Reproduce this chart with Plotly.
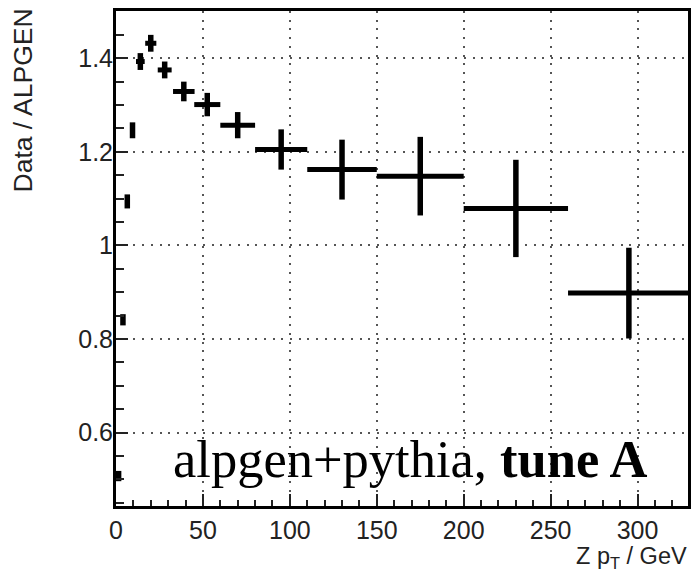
import plotly.graph_objects as go

# Z pT bin centres (GeV) and half-widths
pt = [1.5, 4.0, 6.5, 9.5, 14.0, 20.0, 28.0, 39.0, 52.5, 70.0, 95.0, 130.0, 175.0, 230.0, 295.0]
pt_halfwidth = [0.8, 0.8, 0.8, 1.0, 2.5, 3.2, 4.0, 6.2, 7.5, 10.0, 15.0, 20.0, 25.0, 30.0, 35.0]
# Data / ALPGEN ratio and its uncertainty
ratio = [0.507, 0.841, 1.094, 1.246, 1.393, 1.432, 1.375, 1.329, 1.301, 1.257, 1.205, 1.162, 1.148, 1.079, 0.898]
ratio_err = [0.011, 0.012, 0.015, 0.017, 0.018, 0.018, 0.018, 0.021, 0.025, 0.028, 0.043, 0.064, 0.084, 0.104, 0.097]

y_ticks = [0.6, 0.8, 1.0, 1.2, 1.4]
y_ticklabels = ["0.6", "0.8", "1", "1.2", "1.4"]
x_ticks = [0, 50, 100, 150, 200, 250, 300]

fig = go.Figure()
fig.add_trace(go.Scatter(
    x=pt, y=ratio, mode="markers",
    marker=dict(size=1, color="black"),
    error_x=dict(type="data", array=pt_halfwidth, width=0, thickness=5, color="black"),
    error_y=dict(type="data", array=ratio_err, width=0, thickness=5.5, color="black"),
    showlegend=False, hoverinfo="skip",
))

W, H = 693, 573
L, T, PW, PH = 116, 11, 575, 495

tickfont = dict(family="Liberation Sans, Arial, sans-serif", size=25, color="#222")
fig.update_layout(
    width=W, height=H,
    margin=dict(l=L, r=W - L - PW, t=T, b=H - T - PH),
    paper_bgcolor="white", plot_bgcolor="white",
    xaxis=dict(
        range=[0, 329], tickvals=x_ticks, ticks="inside", ticklen=12, tickwidth=1.5, tickcolor="#222",
        minor=dict(dtick=10, tick0=0, ticks="inside", ticklen=6, tickwidth=1.5, tickcolor="#222", showgrid=False),
        showline=True, linewidth=3, linecolor="black", mirror=True,
        showgrid=True, gridcolor="#555", gridwidth=2, griddash="2px,6.7px",
        zeroline=False, tickfont=tickfont,
    ),
    yaxis=dict(
        range=[0.443, 1.501], tickvals=y_ticks, ticktext=y_ticklabels,
        ticks="inside", ticklen=12, tickwidth=1.5, tickcolor="#222",
        minor=dict(dtick=0.05, tick0=0, ticks="inside", ticklen=8, tickwidth=1.5, tickcolor="#222", showgrid=False),
        showline=True, linewidth=3, linecolor="black", mirror=True,
        showgrid=True, gridcolor="#555", gridwidth=2, griddash="2px,6.7px",
        zeroline=False, tickfont=tickfont, ticklabelstandoff=-5,
    ),
    annotations=[
        dict(text="Data / ALPGEN", textangle=-90, xref="paper", yref="paper",
             x=(23 - L) / PW, y=1 + (T - 6) / PH, xanchor="center", yanchor="top", showarrow=False,
             font=dict(family="Liberation Sans, Arial, sans-serif", size=26.5, color="#222")),
        dict(text="Z p<sub>T</sub> / GeV", xref="paper", yref="paper",
             x=(692 - L) / PW, y=-(557 - T - PH) / PH, xanchor="right", yanchor="middle", showarrow=False,
             font=dict(family="Liberation Sans, Arial, sans-serif", size=23.5, color="#222")),
        dict(text="alpgen+pythia, <b>tune A</b>", xref="paper", yref="paper",
             x=(171 - L) / PW, y=1 - (459 - T) / PH, xanchor="left", yanchor="middle",
             showarrow=False,
             font=dict(family="Liberation Serif, Times New Roman, serif", size=52.5, color="black")),
    ],
)

fig.write_html("out.html", config={"displayModeBar": False},
               post_script="document.body.style.margin='0';document.body.style.overflow='hidden';")
